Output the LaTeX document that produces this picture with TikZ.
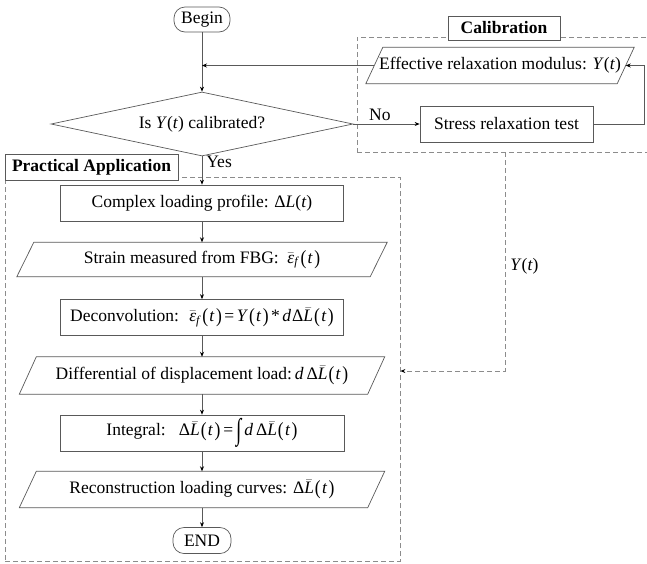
\documentclass[tikz,border=0pt]{standalone}
\usepackage{fontspec}
\usepackage{graphicx}
\setmainfont{Liberation Serif}
\usetikzlibrary{shapes.geometric,arrows.meta,calc}
\newcommand{\vi}[1]{\textit{#1}}
\newcommand{\Lb}{$\bar{\mbox{\textit{L}}}$}
\newcommand{\epsf}{$\bar{\mbox{\textit{ε}}}_{\mbox{\fontsize{12}{14}\selectfont\textit{f}}}$}
\newcommand{\bpar}[1]{\raisebox{-1pt}{\scalebox{1}[1.15]{#1}}}
\newcommand{\argt}{\kern1pt\bpar{(}\kern1.2pt\textit{t}\kern1.5pt\bpar{)}}
\newcommand{\bigint}{\raisebox{-4pt}{\scalebox{1.1}[1.7]{∫}}}
\tikzset{
  ln/.style={draw=black!65, line width=0.7pt},
  arr/.style={ln, -{Stealth[length=5pt,width=4pt,color=black]}},
  dasharr/.style={draw=black!45, line width=0.8pt, dash pattern=on 5pt off 3pt, -{Stealth[length=5pt,width=4pt,color=black]}},
  rbox/.style={draw=black!65, line width=0.7pt, rectangle, inner sep=0pt, align=center},
  pbox/.style={rectangle, inner sep=0pt, align=center},
  term/.style={draw=black!65, line width=0.7pt, rectangle, rounded corners=11pt, inner sep=0pt},
  frame/.style={draw=black!45, line width=0.8pt, dash pattern=on 5pt off 3pt, rectangle, inner sep=0pt},
  ttl/.style={draw=black!65, line width=0.7pt, fill=white, rectangle, inner sep=0pt, font=\fontsize{17.5}{20}\selectfont\bfseries},
  lbl/.style={inner sep=1pt}
}
\newcommand{\parashape}[2]{%
  \draw[ln] ([xshift=-#2]#1.south west) -- ([xshift=#2]#1.north west) -- ([xshift=#2]#1.north east) -- ([xshift=-#2]#1.south east) -- cycle;}
\begin{document}
\begin{tikzpicture}[x=1pt,y=-1pt,font=\fontsize{17.5}{21}\selectfont]
\useasboundingbox (0,0) rectangle (647,563);
% frames
\node[frame, minimum width=295pt, minimum height=115pt] (cal) at (504.5,94.5) {};
\node[frame, minimum width=395pt, minimum height=384pt] (pract) at (202.5,369) {};
\node[ttl, minimum width=112pt, minimum height=24pt] (calt) at (504,28) {Calibration};
\node[ttl, minimum width=173pt, minimum height=26pt] (pract t) at (91.5,167) {Practical Application};
% main column
\node[term, minimum width=56pt, minimum height=25pt] (begin) at (202,19.5) {Begin};
\node[diamond, draw=black!65, line width=0.7pt, minimum width=302pt, minimum height=64pt, aspect=4.7, inner sep=0pt] (dec) at (202,124) {Is \vi{Y}(\vi{t}) calibrated?};
\node[rbox, minimum width=283pt, minimum height=36pt] (complex) at (202,203) {Complex loading profile: Δ\vi{L}(\vi{t})};
\node[pbox, minimum width=353pt, minimum height=34pt] (strain) at (202,259.5) {Strain measured from FBG: \ \epsf\argt};
\node[rbox, minimum width=283pt, minimum height=36pt] (deconv) at (202,317.5) {Deconvolution: \ \epsf\argt\kern2.5pt=\kern2.5pt\vi{Y}\argt\kern2.5pt*\kern2.5pt\vi{d}\kern1ptΔ\Lb\argt};
\node[pbox, minimum width=348pt, minimum height=37pt] (diff) at (202,375.5) {Differential of displacement load:\,\vi{d}\,Δ\Lb\argt};
\node[rbox, minimum width=284pt, minimum height=36pt] (integ) at (202,433) {Integral:\enspace\ Δ\Lb\argt\,=\,\bigint\,\vi{d}\,Δ\Lb\argt};
\node[pbox, minimum width=348pt, minimum height=36pt] (recon) at (202,489.5) {Reconstruction loading curves: Δ\Lb\argt};
\node[term, minimum width=58pt, minimum height=26pt] (end) at (202,540.5) {END};
% calibration column
\node[pbox, minimum width=251pt, minimum height=36pt] (eff) at (500,65.5) {Effective relaxation modulus: \vi{Y}(\vi{t})};
\node[rbox, minimum width=173pt, minimum height=36pt] (stress) at (506.5,124) {Stress relaxation test};
\parashape{strain}{8.5pt}
\parashape{diff}{8.5pt}
\parashape{recon}{8.5pt}
\parashape{eff}{8.5pt}
% coordinates
\coordinate (junc) at (begin.south |- eff.west);
\coordinate (rt) at (644,65.5);
\coordinate (ydown) at (505,0);
\coordinate (yin) at (0,371);
% connectors
\draw[arr] (begin.south) -- (dec.north);
\draw[arr] (eff.west) -- (junc);
\draw[arr] (dec.east) -- node[lbl, pos=0.4, above=2pt] {No} (stress.west);
\draw[arr] (stress.east) -| (rt) -- (eff.east);
\draw[arr] (dec.south) -- node[lbl, pos=0.2, right=3pt] {Yes} (complex.north);
\draw[arr] (complex) -- (strain);
\draw[arr] (strain) -- (deconv);
\draw[arr] (deconv) -- (diff);
\draw[arr] (diff) -- (integ);
\draw[arr] (integ) -- (recon);
\draw[arr] (recon) -- (end);
\draw[dasharr] (cal.south -| ydown) |- node[lbl, pos=0.26, right=4pt] {\vi{Y}(\vi{t})} (pract.east |- yin);
\end{tikzpicture}
\end{document}
